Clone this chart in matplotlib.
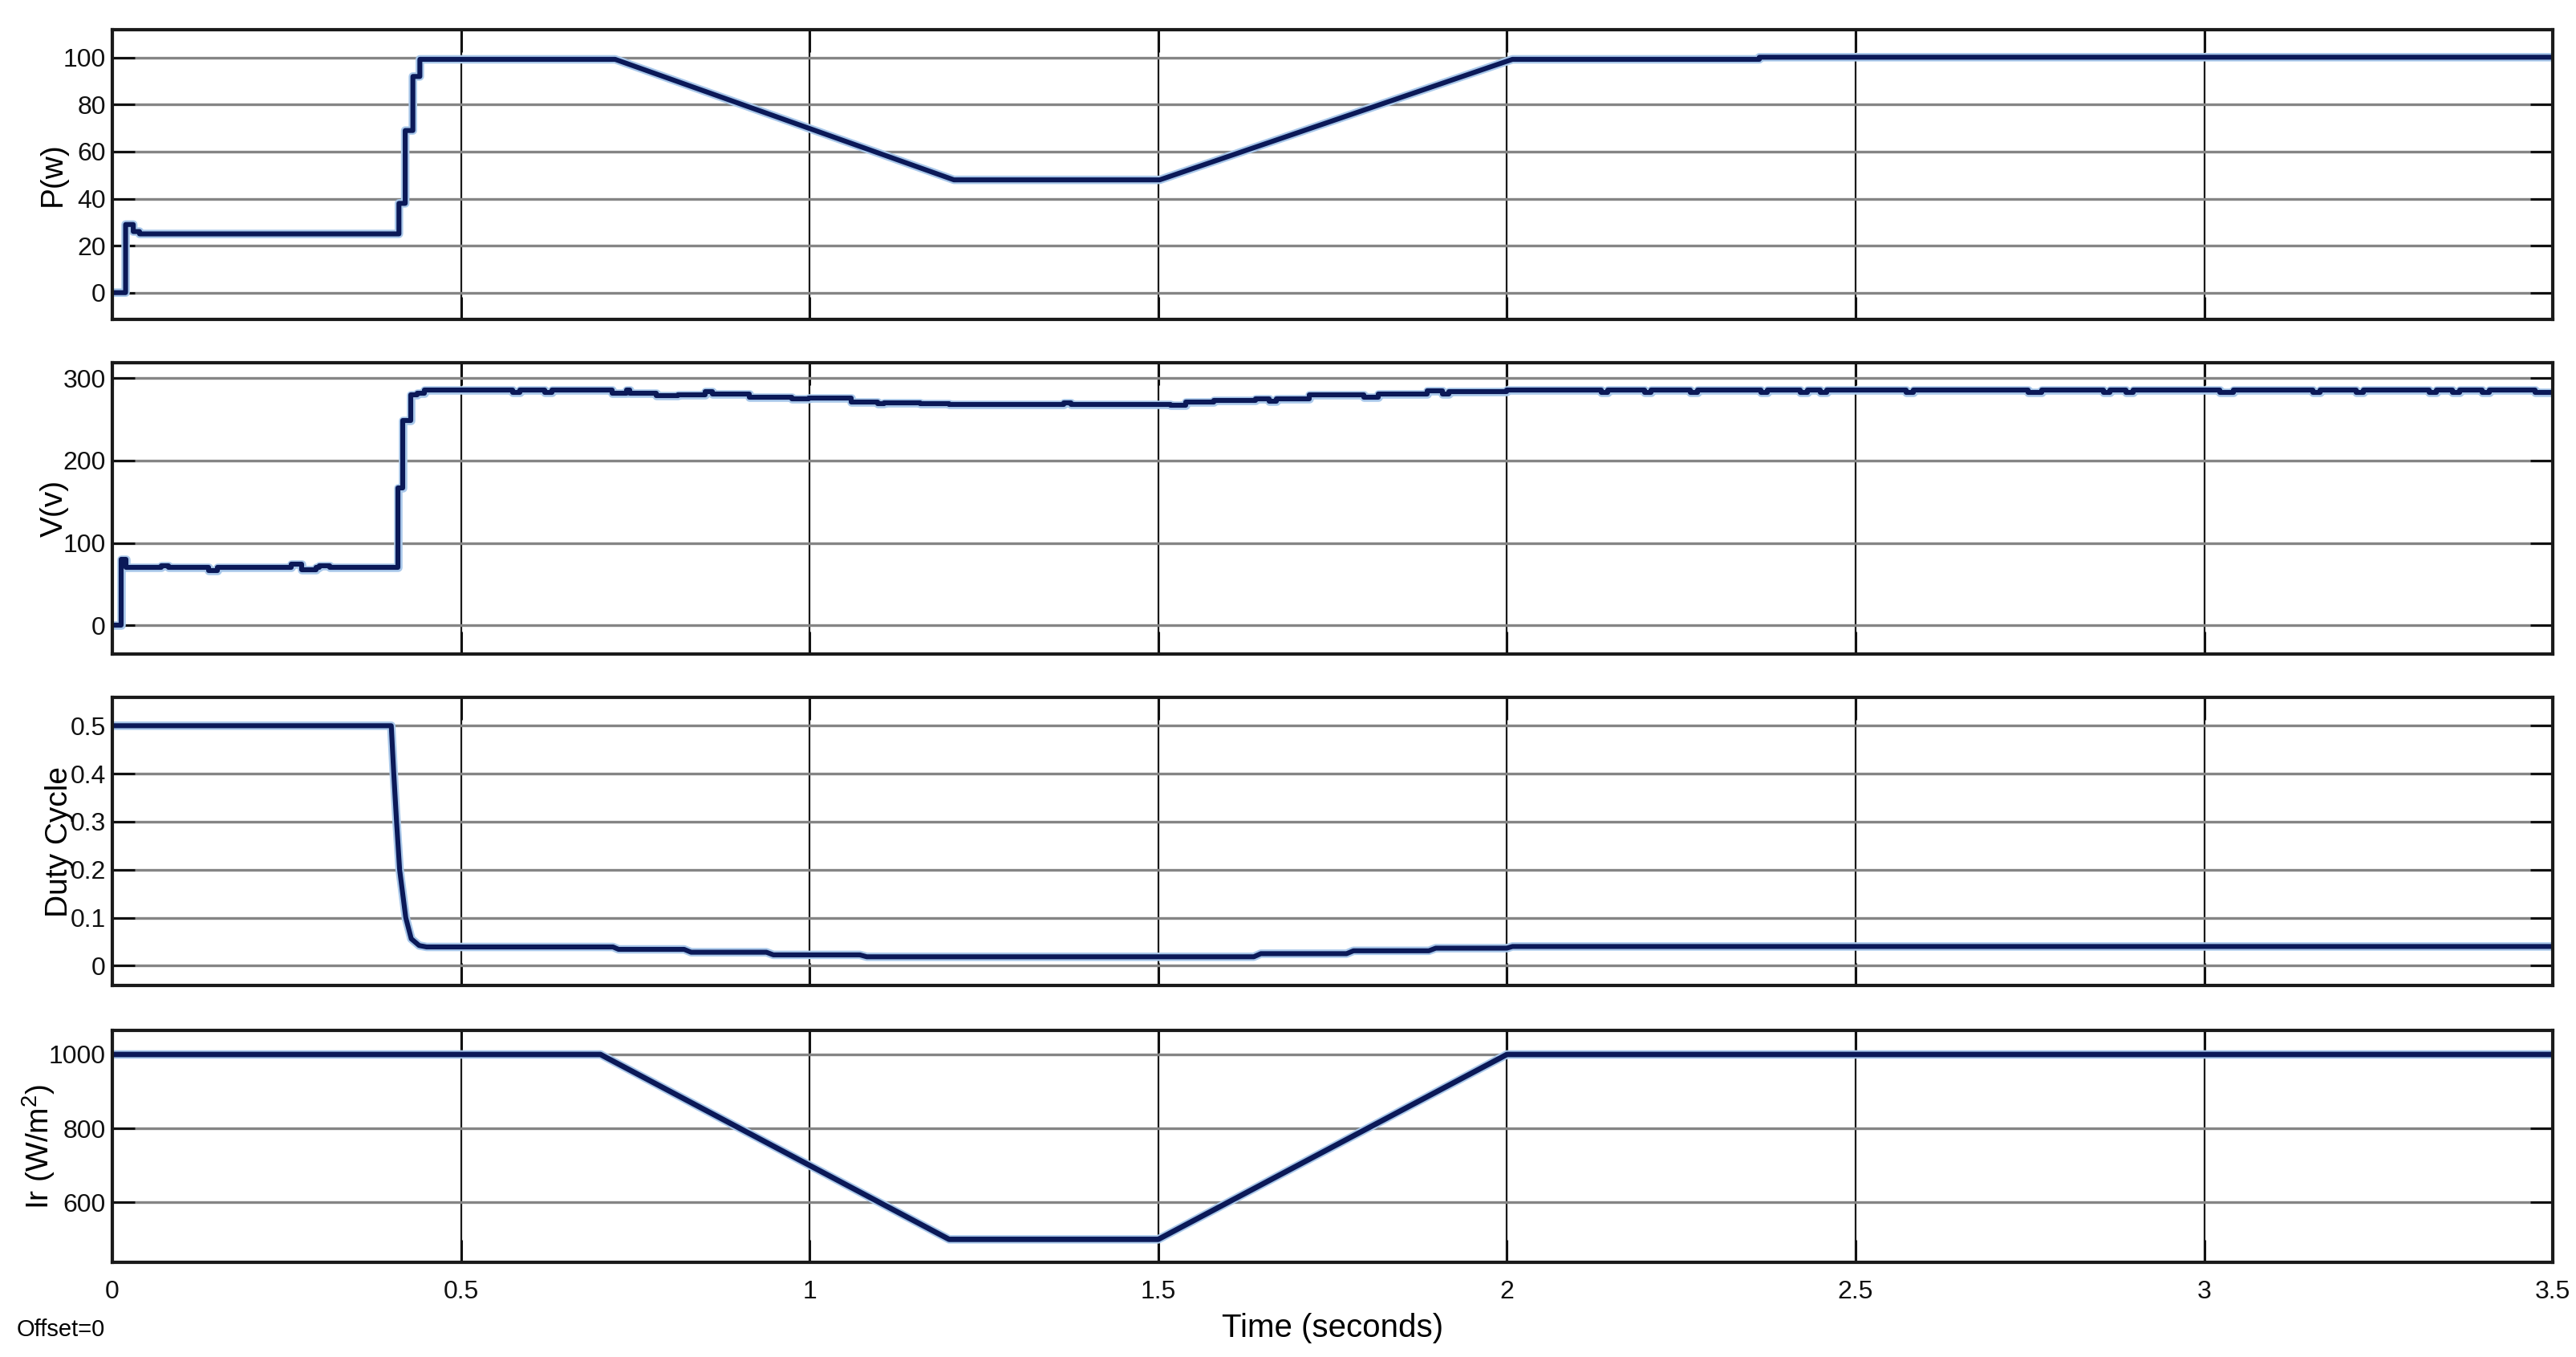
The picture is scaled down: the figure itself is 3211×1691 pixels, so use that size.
import numpy as np
import matplotlib
matplotlib.use('Agg')
import matplotlib.pyplot as plt
import matplotlib.patheffects as pe

#-----------------------------------------------------------------------------
xticks = [0, 0.5, 1, 1.5, 2, 2.5, 3, 3.5]
xticklabels = ['0', '0.5', '1', '1.5', '2', '2.5', '3', '3.5']

# power (W), breakpoints
t_p = [0, 0.019, 0.019, 0.030, 0.030, 0.039, 0.039, 0.411, 0.411, 0.420, 0.420,
       0.431, 0.431, 0.441, 0.441, 0.721, 1.207, 1.502, 2.008, 2.362, 2.362, 3.5]
p_w = [0, 0, 29, 29, 26, 26, 25, 25, 38, 38, 69,
       69, 92, 92, 99.3, 99.3, 48, 48, 99.3, 99.3, 100.2, 100.2]

# voltage (V), value changes (held until next time)
t_v = [0, 0.0128, 0.019, 0.070, 0.081, 0.138, 0.151, 0.257, 0.272, 0.292, 0.297, 0.312,
       0.410, 0.416, 0.428, 0.437, 0.448, 0.574, 0.584, 0.620, 0.630, 0.717, 0.737, 0.742,
       0.780, 0.811, 0.850, 0.861, 0.913, 0.974, 0.999, 1.060, 1.097, 1.107, 1.159, 1.200,
       1.365, 1.375, 1.518, 1.539, 1.580, 1.639, 1.659, 1.669, 1.717, 1.795, 1.815, 1.886,
       1.907, 1.917, 2.000, 2.135, 2.145, 2.197, 2.207, 2.263, 2.273, 2.364, 2.374, 2.421,
       2.431, 2.449, 2.459, 2.573, 2.583, 2.747, 2.767, 2.855, 2.865, 2.888, 2.898, 3.022,
       3.042, 3.156, 3.166, 3.218, 3.228, 3.323, 3.333, 3.356, 3.366, 3.399, 3.409, 3.475,
       3.5]
v_v = [0, 80, 70, 72, 70, 67, 70, 74, 68, 70, 72, 70,
       167, 248, 280, 282, 285, 282.5, 285, 282.5, 285.5, 282, 285, 282,
       279, 280, 283.5, 281, 276.5, 274.5, 275.5, 271, 268.5, 270, 268.5, 267.5,
       270, 267.5, 266.5, 270.5, 272.5, 275, 272, 275, 280, 277, 281, 284,
       281, 283.5, 285.5, 283, 285.5, 283, 285.5, 283, 285.5, 283, 285.5, 283,
       285.5, 283, 285.5, 283, 285.5, 283, 285.5, 283, 285.5, 283, 285.5, 283,
       285.5, 283, 285.5, 283, 285.5, 283, 285.5, 283, 285.5, 283, 285.5, 283,
       283]

# duty cycle
t_d = [0, 0.400, 0.4036, 0.4076, 0.412, 0.4208, 0.4287, 0.440, 0.4507,
       0.718, 0.726, 0.820, 0.830, 0.938, 0.948, 1.072, 1.082,
       1.637, 1.647, 1.770, 1.780, 1.888, 1.898, 2.000, 2.008, 3.5]
duty = [0.5, 0.5, 0.4, 0.3, 0.2, 0.1, 0.056, 0.042, 0.039,
        0.039, 0.034, 0.034, 0.028, 0.028, 0.0225, 0.0225, 0.0185,
        0.0185, 0.025, 0.025, 0.031, 0.031, 0.0365, 0.0365, 0.040, 0.040]

# irradiance (W/m^2)
t_ir = [0, 0.7, 1.2, 1.5, 2.0, 3.5]
ir = [1000, 1000, 500, 500, 1000, 1000]

narrow = ['Liberation Sans Narrow', 'Liberation Sans', 'DejaVu Sans']
regular = ['Liberation Sans', 'DejaVu Sans']
line_c = '#0b1958'
halo = [pe.Stroke(linewidth=3.8, foreground='#a9c8ea'), pe.Normal()]
#-----------------------------------------------------------------------------
def style(ax, ylim, yticks, ylabels, ylabel, labelx):
  ax.set_xlim(0, 3.5)
  ax.set_ylim(*ylim)
  ax.set_xticks(xticks)
  ax.set_xticklabels(xticklabels, family=narrow)
  ax.set_yticks(yticks)
  ax.set_yticklabels(ylabels, family=narrow)
  ax.grid(axis='y', color='#858585', lw=1.2)
  ax.grid(axis='x', color='#1a1a1a', lw=0.8)
  ax.tick_params(direction='in', length=10, width=1.1, top=True, right=True,
                 labelsize=11.5, colors='#111111')
  ax.tick_params(axis='y', pad=3)
  ax.tick_params(axis='x', pad=8)
  for s in ax.spines.values():
    s.set_linewidth(1.5)
    s.set_color('#1a1a1a')
  ax.set_ylabel(ylabel, fontsize=14, family=regular)
  ax.yaxis.set_label_coords(labelx, 0.5)

def action():
  ax = axs[0]
  ax.plot(t_p, p_w, color=line_c, lw=2.2, path_effects=halo)
  style(ax, (-11.4, 111.9), [0, 20, 40, 60, 80, 100],
        ['0', '20', '40', '60', '80', '100'], 'P(w)', -0.0184)
  #------------------------------------------------------------------------------
  ax = axs[1]
  ax.plot(t_v, v_v, color=line_c, lw=2.2, drawstyle='steps-post', path_effects=halo)
  style(ax, (-34.7, 318.2), [0, 100, 200, 300],
        ['0', '100', '200', '300'], 'V(v)', -0.0178)
  #------------------------------------------------------------------------------
  ax = axs[2]
  ax.plot(t_d, duty, color=line_c, lw=2.2, path_effects=halo)
  style(ax, (-0.0418, 0.5585), [0, 0.1, 0.2, 0.3, 0.4, 0.5],
        ['0', '0.1', '0.2', '0.3', '0.4', '0.5'], 'Duty Cycle', -0.0158)
  #------------------------------------------------------------------------------
  ax = axs[3]
  ax.plot(t_ir, ir, color=line_c, lw=2.4, path_effects=halo)
  style(ax, (438.7, 1064.4), [600, 800, 1000],
        ['600', '800', '1000'], r'Ir (W/m$^{\mathsf{2}}$)', -0.0227)
  ax.set_xlabel('Time (seconds)', fontsize=14.5, family=narrow, labelpad=4)
  for a in axs[:3]:
    a.tick_params(labelbottom=False)

if __name__ == '__main__':
  plt.rcParams['mathtext.default'] = 'regular'
  plt.rcParams['mathtext.fontset'] = 'custom'
  plt.rcParams['mathtext.rm'] = 'Liberation Sans'
  plt.rcParams['mathtext.sf'] = 'Liberation Sans'
  plt.rcParams['font.family'] = regular
  fig = plt.figure(figsize=(16.06, 8.455), dpi=200)
  left, right = 0.0436, 0.9907
  rows = [(0.7646, 0.9781), (0.5180, 0.7325), (0.2736, 0.4859), (0.0700, 0.2405)]
  axs = [fig.add_axes([left, b, right - left, t - b]) for b, t in rows]
  action()
  fig.text(21 / 3212, 1 - 1657 / 1691, 'Offset=0', ha='left', va='center',
           fontsize=10.5, family=narrow)
  fig.savefig('out.png', dpi=200, facecolor='white')
